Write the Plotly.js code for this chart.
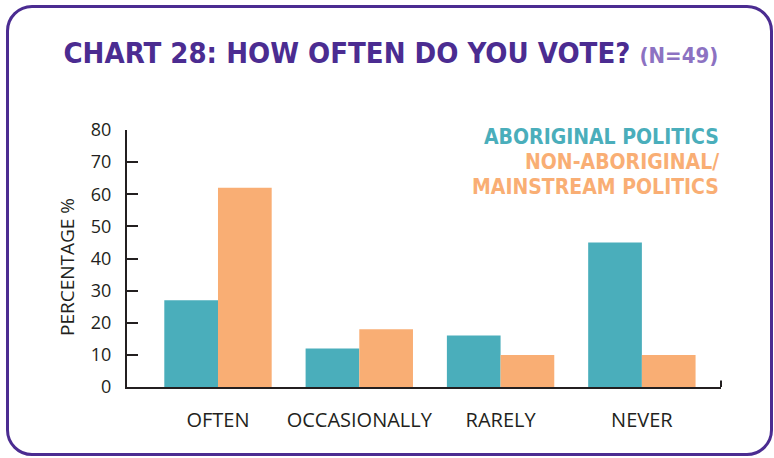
<!DOCTYPE html>
<html>
<head>
<meta charset="utf-8">
<script src="https://cdn.plot.ly/plotly-3.0.1.min.js"></script>
<style>
  html, body { margin: 0; padding: 0; background: #ffffff; }
  #wrap { position: relative; width: 774px; height: 458px; }
  #chart { position: absolute; left: 0; top: 0; width: 774px; height: 458px; }
  #frame { position: absolute; left: 6px; top: 5px; width: 761px; height: 445px;
           border: 3px solid #4b2c91; border-radius: 26px; pointer-events: none; }
</style>
</head>
<body>
<div id="wrap">
  <div id="chart"></div>
  <div id="frame"></div>
</div>
<script>
const categories = ["OFTEN", "OCCASIONALLY", "RARELY", "NEVER"];
const aboriginal = [27, 12, 16, 45];
const nonAboriginal = [62, 18, 10, 10];
const seriesNames = ["ABORIGINAL POLITICS", "NON-ABORIGINAL/", "MAINSTREAM POLITICS"];
const yTicks = [0, 10, 20, 30, 40, 50, 60, 70, 80];

const teal = "#4aaebb";
const orange = "#f9ae74";
const ink = "#231f20";
const legendFont = "DejaVu Sans Condensed, sans-serif";

const traces = [
  { type: "bar", x: categories, y: aboriginal, name: seriesNames[0],
    marker: { color: teal }, showlegend: false },
  { type: "bar", x: categories, y: nonAboriginal, name: seriesNames[1] + " " + seriesNames[2],
    marker: { color: orange }, showlegend: false }
];

const layout = {
  width: 774, height: 458,
  margin: { l: 127, r: 53, t: 130, b: 71 },
  paper_bgcolor: "rgba(0,0,0,0)",
  plot_bgcolor: "rgba(0,0,0,0)",
  barmode: "group",
  bargap: 0.24,
  bargroupgap: 0,
  font: { family: "Open Sans, sans-serif", color: ink, size: 18 },
  title: {
    text: "CHART 28: HOW OFTEN DO YOU VOTE? <span style=\"font-size:22px;color:#8c72c2\">(N=49)</span>",
    font: { family: "DejaVu Sans Condensed, sans-serif", size: 29, color: "#4b2c91", weight: "bold" },
    xref: "container", x: 0.505, xanchor: "center",
    yref: "container", y: 0.885, yanchor: "middle"
  },
  xaxis: {
    type: "category",
    range: [-0.644, 3.56],
    showline: true, linecolor: ink, linewidth: 2,
    ticks: "", showgrid: false, zeroline: false,
    tickfont: { family: "Open Sans, sans-serif", size: 20, color: ink },
    ticklabelstandoff: 14
  },
  yaxis: {
    range: [0, 80],
    tickvals: yTicks,
    ticktext: yTicks.map(String),
    showline: true, linecolor: ink, linewidth: 2,
    ticks: "inside", ticklen: 11, tickwidth: 2, tickcolor: ink,
    showgrid: false, zeroline: false,
    tickfont: { family: "Open Sans, sans-serif", size: 18, color: ink },
    ticklabelstandoff: 10
  },
  shapes: [
    { type: "line", xref: "paper", yref: "paper", x0: 1, x1: 1, y0: 0, y1: 0.025,
      line: { color: ink, width: 2 } }
  ],
  annotations: [
    { xref: "paper", yref: "paper", x: -0.101, y: 0.467, xanchor: "center", yanchor: "middle",
      text: "PERCENTAGE %", textangle: -90, showarrow: false,
      font: { family: "Open Sans, sans-serif", size: 19, color: ink } },
    { xref: "paper", yref: "paper", x: 1, y: 0.973, xanchor: "right", yanchor: "middle",
      text: "<b>" + seriesNames[0] + "</b>", showarrow: false, align: "right",
      font: { family: legendFont, size: 21, color: teal } },
    { xref: "paper", yref: "paper", x: 1, y: 0.875, xanchor: "right", yanchor: "middle",
      text: "<b>" + seriesNames[1] + "</b>", showarrow: false, align: "right",
      font: { family: legendFont, size: 21, color: orange } },
    { xref: "paper", yref: "paper", x: 1, y: 0.778, xanchor: "right", yanchor: "middle",
      text: "<b>" + seriesNames[2] + "</b>", showarrow: false, align: "right",
      font: { family: legendFont, size: 21, color: orange } }
  ]
};

Plotly.newPlot("chart", traces, layout, { displayModeBar: false, staticPlot: true });
</script>
</body>
</html>
